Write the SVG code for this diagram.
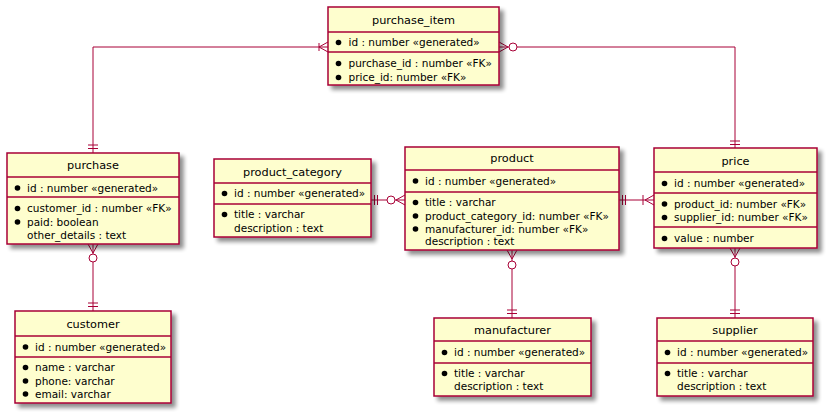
<svg xmlns="http://www.w3.org/2000/svg" width="829" height="415" viewBox="0 0 829 415">
<defs>
<filter id="sh" x="-10%" y="-10%" width="130%" height="130%">
<feGaussianBlur in="SourceAlpha" stdDeviation="2"/>
<feOffset dx="4" dy="4" result="o"/>
<feComponentTransfer><feFuncA type="linear" slope="0.45"/></feComponentTransfer>
<feMerge><feMergeNode/><feMergeNode in="SourceGraphic"/></feMerge>
</filter>
<style>
.box{fill:#FEFECE;stroke:#A80036;stroke-width:1.5;filter:url(#sh)}
.sep{stroke:#A80036;stroke-width:1.5}
.t{font-family:"DejaVu Sans",sans-serif;font-size:11.3px;text-anchor:middle;fill:#000}
.a{font-family:"DejaVu Sans",sans-serif;font-size:10.5px;fill:#000}
.b{fill:#000}
.c{stroke:#A80036;stroke-width:1;fill:none}
.o{stroke:#A80036;stroke-width:1;fill:#fff}
</style>
</defs>
<g id="connectors">
<path class="c" d="M328,47 H93 V153"/>
<path class="c" d="M319,43 V51 M319,47 L328,42 M319,47 L328,52"/>
<path class="c" d="M88,145 H98 M88,148.5 H98"/>
<path class="c" d="M499,47 H735 V148"/>
<path class="c" d="M508,47 L499,42 M508,47 L499,52"/>
<circle class="o" cx="513" cy="47" r="4"/>
<path class="c" d="M730,141 H740 M730,144.5 H740"/>
<path class="c" d="M371,200 H405"/>
<path class="c" d="M374.5,195 V205 M377.5,195 V205"/>
<path class="c" d="M396,200 L405,195 M396,200 L405,205"/>
<circle class="o" cx="391" cy="200" r="4"/>
<path class="c" d="M619,200 H654"/>
<path class="c" d="M622.5,195 V205 M625.5,195 V205"/>
<path class="c" d="M643,195 V205 M645,200 L654,195 M645,200 L654,205"/>
<path class="c" d="M93,244 V311"/>
<path class="c" d="M93,253 L88,244 M93,253 L98,244"/>
<circle class="o" cx="93" cy="258" r="4"/>
<path class="c" d="M88,303 H98 M88,306.5 H98"/>
<path class="c" d="M512,250 V318"/>
<path class="c" d="M512,259 L507,250 M512,259 L517,250"/>
<circle class="o" cx="512" cy="265" r="4"/>
<path class="c" d="M507,310 H517 M507,313.5 H517"/>
<path class="c" d="M735,248 V318"/>
<path class="c" d="M735,257 L730,248 M735,257 L740,248"/>
<circle class="o" cx="735" cy="262" r="4"/>
<path class="c" d="M730,310 H740 M730,313.5 H740"/>
</g>
<g id="purchase_item">
<rect class="box" x="328" y="7" width="171" height="78"/>
<line class="sep" x1="328" y1="32" x2="499" y2="32"/>
<line class="sep" x1="328" y1="52" x2="499" y2="52"/>
<text class="t" x="413.5" y="24">purchase_item</text>
<circle class="b" cx="338.5" cy="42.5" r="2.8"/><text class="a" x="348.5" y="46">id : number «generated»</text>
<circle class="b" cx="338.5" cy="63.5" r="2.8"/><text class="a" x="348.5" y="67">purchase_id : number «FK»</text>
<circle class="b" cx="338.5" cy="77.5" r="2.8"/><text class="a" x="348.5" y="81">price_id: number «FK»</text>
</g>
<g id="purchase">
<rect class="box" x="7" y="153" width="172" height="91"/>
<line class="sep" x1="7" y1="177" x2="179" y2="177"/>
<line class="sep" x1="7" y1="197" x2="179" y2="197"/>
<text class="t" x="93" y="169">purchase</text>
<circle class="b" cx="17.5" cy="188" r="2.8"/><text class="a" x="27" y="191.5">id : number «generated»</text>
<circle class="b" cx="17.5" cy="208.5" r="2.8"/><text class="a" x="27" y="212">customer_id : number «FK»</text>
<circle class="b" cx="17.5" cy="222" r="2.8"/><text class="a" x="27" y="225.5">paid: boolean</text>
<text class="a" x="27" y="239">other_details : text</text>
</g>
<g id="customer">
<rect class="box" x="15" y="311" width="156" height="92"/>
<line class="sep" x1="15" y1="336" x2="171" y2="336"/>
<line class="sep" x1="15" y1="357" x2="171" y2="357"/>
<text class="t" x="93" y="327.5">customer</text>
<circle class="b" cx="25.5" cy="347" r="2.8"/><text class="a" x="35" y="350.5">id : number «generated»</text>
<circle class="b" cx="25.5" cy="367.5" r="2.8"/><text class="a" x="35" y="371">name : varchar</text>
<circle class="b" cx="25.5" cy="381" r="2.8"/><text class="a" x="35" y="384.5">phone: varchar</text>
<circle class="b" cx="25.5" cy="394" r="2.8"/><text class="a" x="35" y="397.5">email: varchar</text>
</g>
<g id="product_category">
<rect class="box" x="214" y="159" width="157" height="78"/>
<line class="sep" x1="214" y1="183" x2="371" y2="183"/>
<line class="sep" x1="214" y1="204" x2="371" y2="204"/>
<text class="t" x="292.5" y="176">product_category</text>
<circle class="b" cx="224.5" cy="193.5" r="2.8"/><text class="a" x="234" y="197">id : number «generated»</text>
<circle class="b" cx="224.5" cy="214.5" r="2.8"/><text class="a" x="234" y="218">title : varchar</text>
<text class="a" x="234" y="231.5">description : text</text>
</g>
<g id="product">
<rect class="box" x="405" y="147" width="214" height="103"/>
<line class="sep" x1="405" y1="170" x2="619" y2="170"/>
<line class="sep" x1="405" y1="192" x2="619" y2="192"/>
<text class="t" x="512" y="162">product</text>
<circle class="b" cx="415.5" cy="181" r="2.8"/><text class="a" x="425" y="184.5">id : number «generated»</text>
<circle class="b" cx="415.5" cy="202.5" r="2.8"/><text class="a" x="425" y="206">title : varchar</text>
<circle class="b" cx="415.5" cy="216" r="2.8"/><text class="a" x="425" y="219.5">product_category_id: number «FK»</text>
<circle class="b" cx="415.5" cy="229" r="2.8"/><text class="a" x="425" y="232.5">manufacturer_id: number «FK»</text>
<text class="a" x="425" y="245">description : text</text>
</g>
<g id="price">
<rect class="box" x="654" y="148" width="163" height="100"/>
<line class="sep" x1="654" y1="172" x2="817" y2="172"/>
<line class="sep" x1="654" y1="193" x2="817" y2="193"/>
<line class="sep" x1="654" y1="227" x2="817" y2="227"/>
<text class="t" x="735.5" y="165">price</text>
<circle class="b" cx="664.5" cy="183.5" r="2.8"/><text class="a" x="674" y="187">id : number «generated»</text>
<circle class="b" cx="664.5" cy="204" r="2.8"/><text class="a" x="674" y="207.5">product_id: number «FK»</text>
<circle class="b" cx="664.5" cy="217.5" r="2.8"/><text class="a" x="674" y="221">supplier_id: number «FK»</text>
<circle class="b" cx="664.5" cy="238.5" r="2.8"/><text class="a" x="674" y="242">value : number</text>
</g>
<g id="manufacturer">
<rect class="box" x="434" y="318" width="157" height="78"/>
<line class="sep" x1="434" y1="341" x2="591" y2="341"/>
<line class="sep" x1="434" y1="363" x2="591" y2="363"/>
<text class="t" x="512.5" y="334">manufacturer</text>
<circle class="b" cx="444.5" cy="352.5" r="2.8"/><text class="a" x="454" y="356">id : number «generated»</text>
<circle class="b" cx="444.5" cy="373.5" r="2.8"/><text class="a" x="454" y="377">title : varchar</text>
<text class="a" x="454" y="390">description : text</text>
</g>
<g id="supplier">
<rect class="box" x="657" y="318" width="156" height="78"/>
<line class="sep" x1="657" y1="341" x2="813" y2="341"/>
<line class="sep" x1="657" y1="363" x2="813" y2="363"/>
<text class="t" x="735" y="334">supplier</text>
<circle class="b" cx="667.5" cy="352.5" r="2.8"/><text class="a" x="677" y="356">id : number «generated»</text>
<circle class="b" cx="667.5" cy="373.5" r="2.8"/><text class="a" x="677" y="377">title : varchar</text>
<text class="a" x="677" y="390">description : text</text>
</g>
</svg>
